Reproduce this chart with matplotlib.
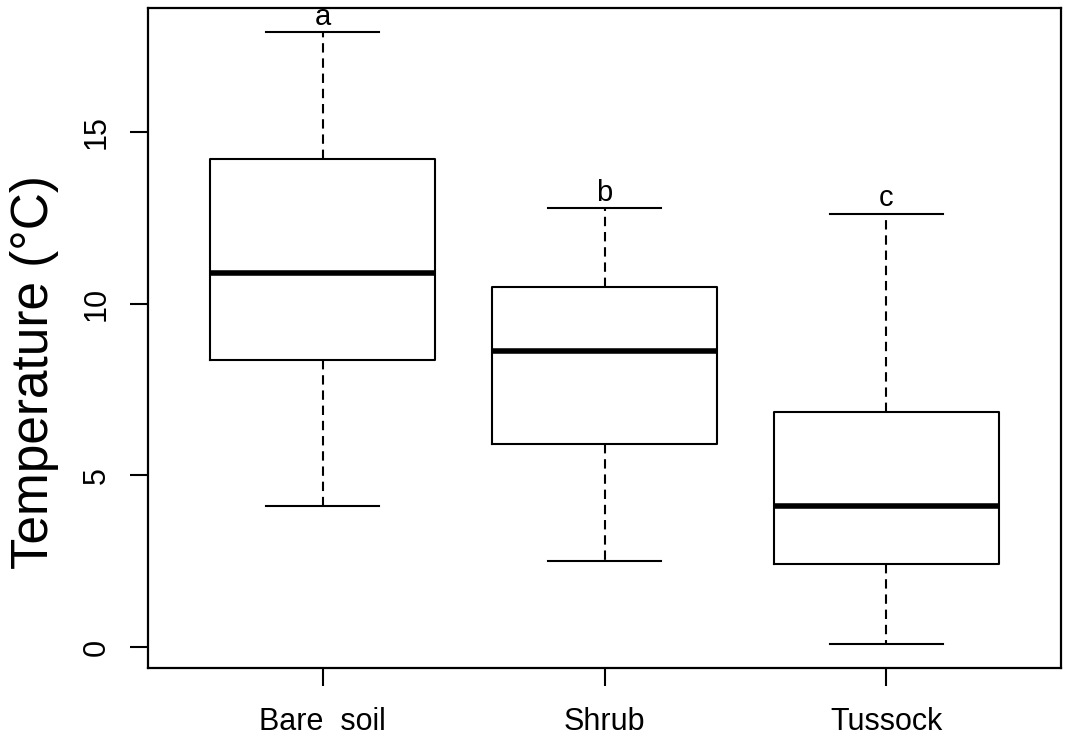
"""Boxplot de temperatura por tipo de cobertura (estilo R base)."""
import matplotlib
matplotlib.use("Agg")
import matplotlib.pyplot as plt

plt.rcParams["font.family"] = ["Liberation Sans", "DejaVu Sans"]

# valores
groups = ["Bare  soil", "Shrub", "Tussock"]
whisker_low = [4.1, 2.5, 0.1]
q1 = [8.35, 5.9, 2.43]
median = [10.9, 8.62, 4.12]
q3 = [14.22, 10.5, 6.84]
whisker_high = [17.9, 12.78, 12.62]
letters = ["a", "b", "c"]

W, H = 1065, 738
fig = plt.figure(figsize=(W / 100, H / 100), dpi=100)
ax = fig.add_axes([148 / W, 1 - 668 / H, (1061 - 148) / W, (668 - 8) / H])

stats = []
for i, name in enumerate(groups):
    stats.append(
        {
            "label": name,
            "whislo": whisker_low[i],
            "q1": q1[i],
            "med": median[i],
            "q3": q3[i],
            "whishi": whisker_high[i],
            "fliers": [],
        }
    )

positions = [1, 2, 3]
ax.bxp(
    stats,
    positions=positions,
    widths=0.8,
    capwidths=0.4,
    showfliers=False,
    boxprops=dict(color="black", linewidth=1.5),
    medianprops=dict(color="black", linewidth=4.0, solid_capstyle="butt"),
    whiskerprops=dict(color="black", linewidth=1.5, linestyle=(0, (4.5, 2.8))),
    capprops=dict(color="black", linewidth=1.5),
)

for pos, top, letter in zip(positions, whisker_high, letters):
    ax.text(pos, top + 0.22, letter, ha="center", va="baseline", fontsize=21)

lo, hi = min(whisker_low), max(whisker_high)
pad = 0.04 * (hi - lo)
ax.set_ylim(lo - pad, hi + pad)
ax.set_xlim(0.5 - 0.12, 3.5 + 0.12)

ax.set_yticks([0, 5, 10, 15])
ax.set_yticklabels(["0", "5", "10", "15"], rotation=90, va="center")
ax.set_xticks(positions)
ax.set_xticklabels(groups)

ax.tick_params(axis="both", direction="out", length=13, width=1.5, labelsize=22)
ax.tick_params(axis="y", pad=13)
ax.tick_params(axis="x", pad=15)
for spine in ax.spines.values():
    spine.set_linewidth(1.6)

ax.set_ylabel("Temperature (°C)", fontsize=37, va="center")
ax.yaxis.set_label_coords((35 - 148) / (1061 - 148), (668 - 372) / (668 - 8))

fig.savefig("out.png", dpi=100)
